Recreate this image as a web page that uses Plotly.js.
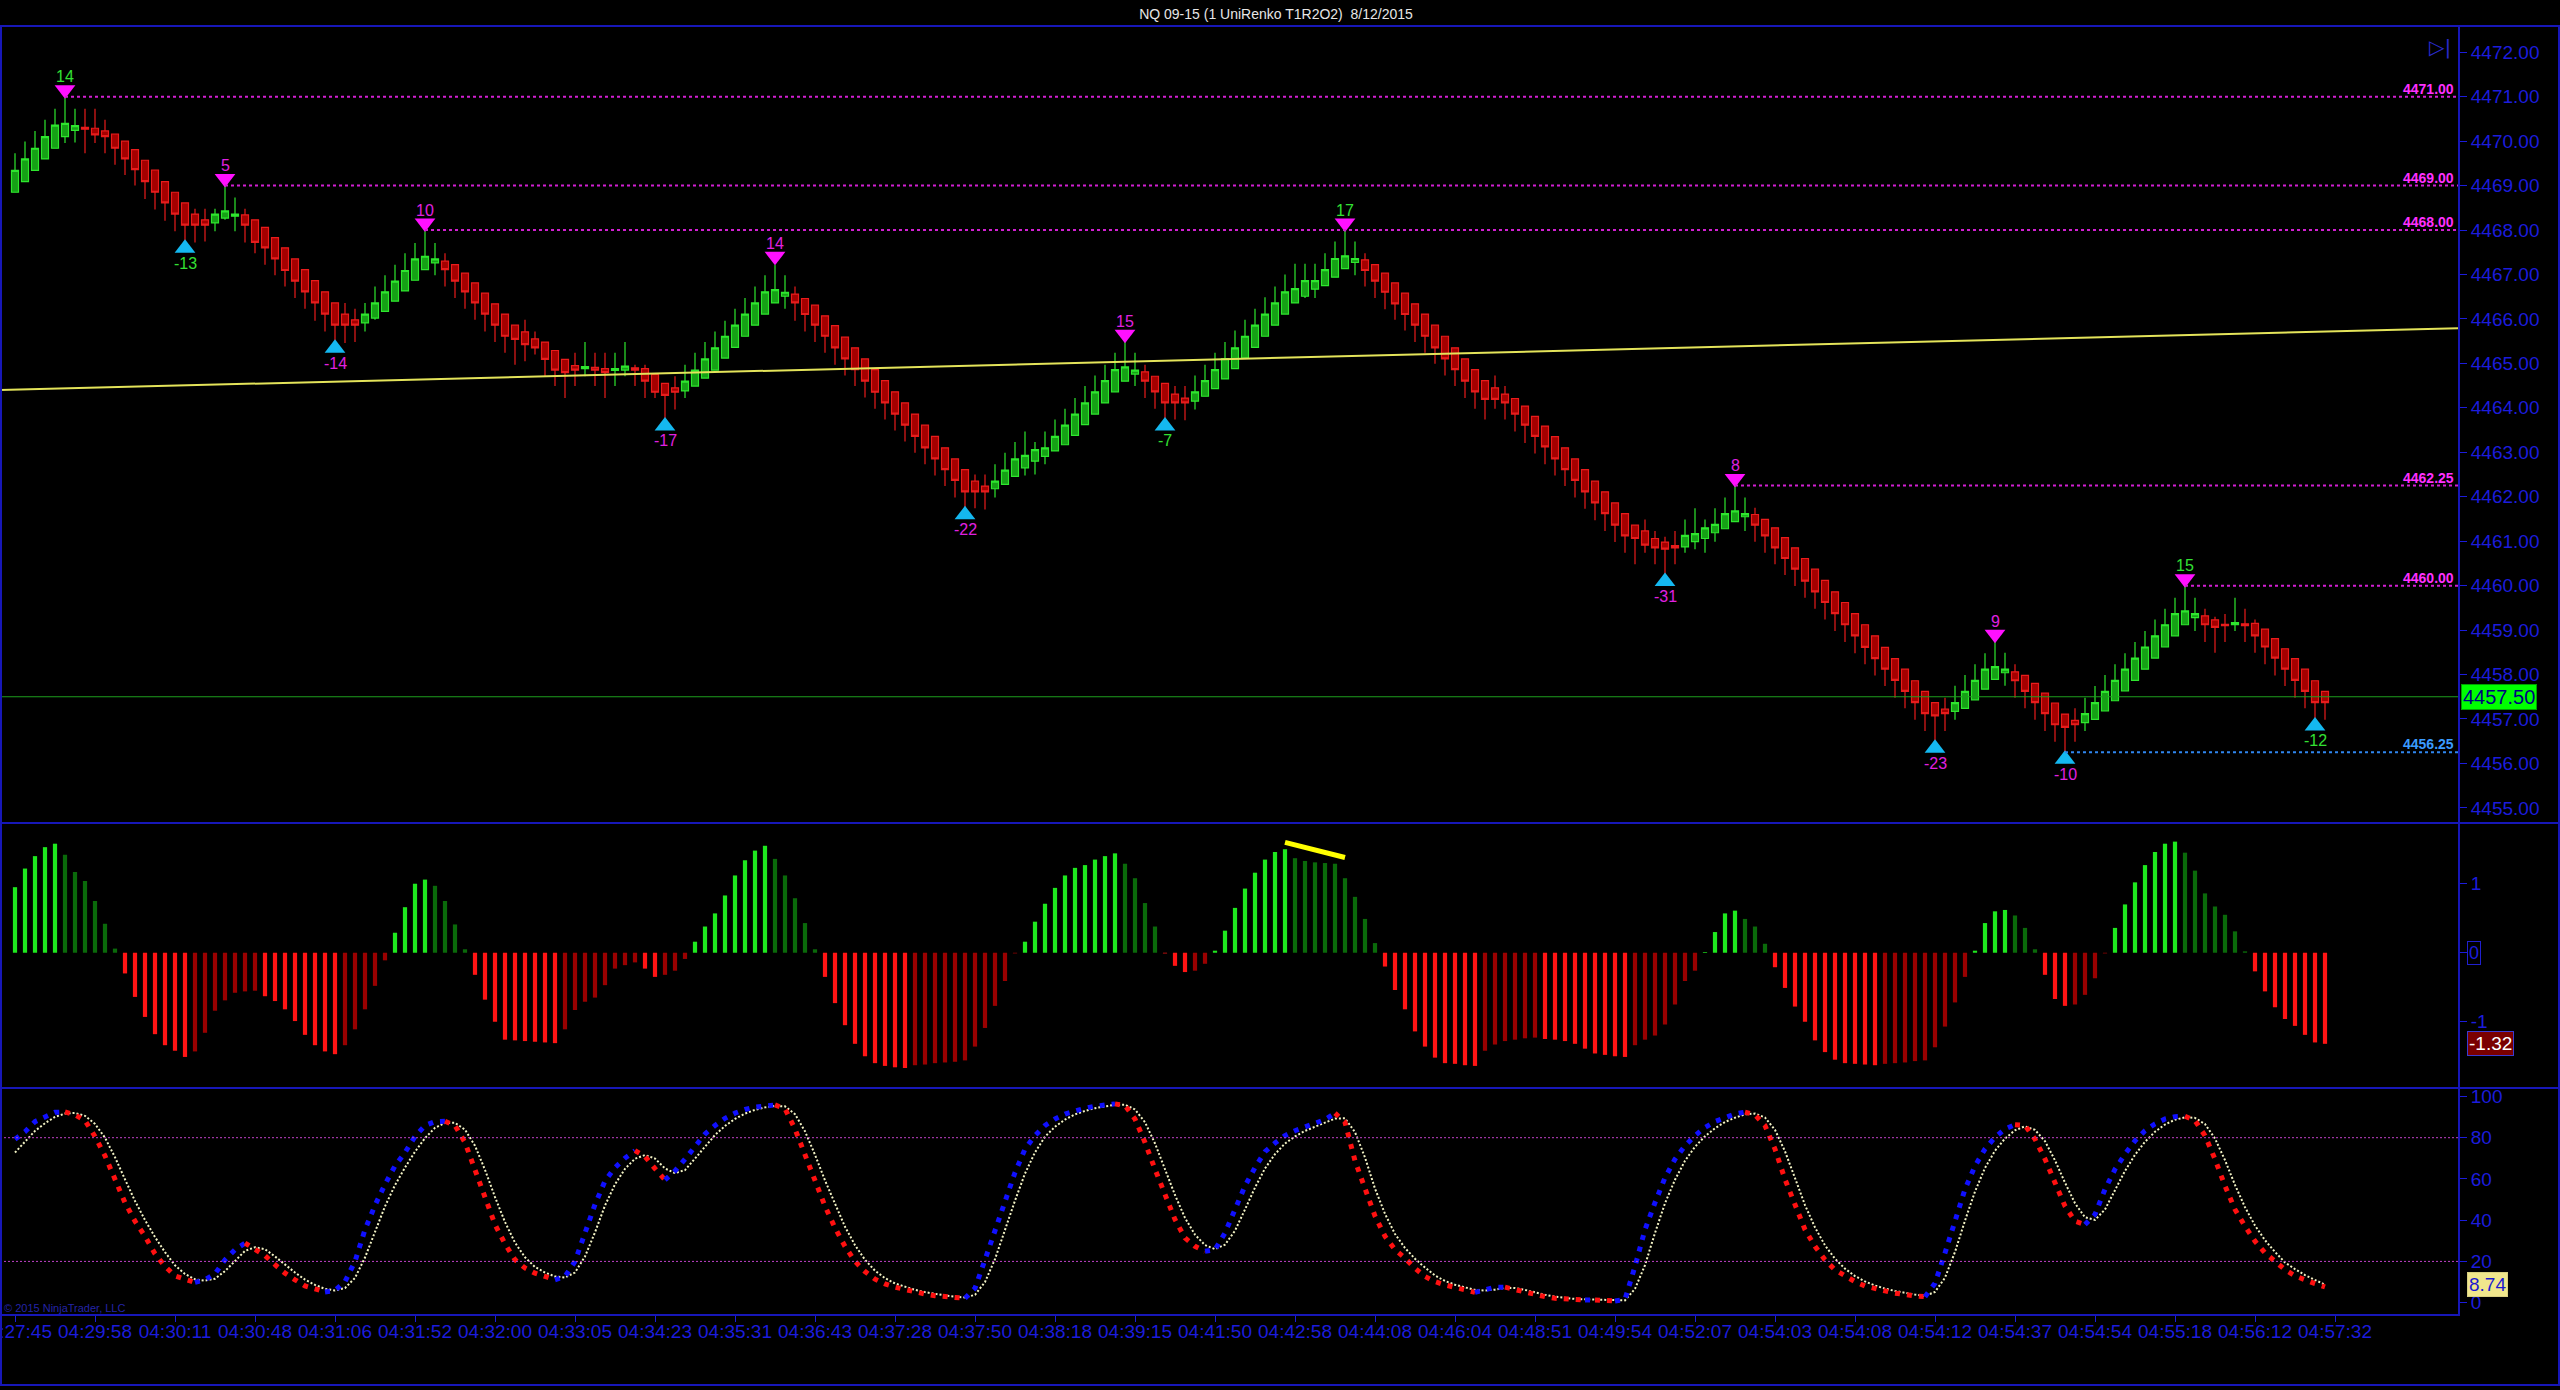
<!DOCTYPE html>
<html><head><meta charset="utf-8">
<script src="https://cdn.plot.ly/plotly-3.0.1.min.js"></script>
<style>html,body{margin:0;padding:0;background:#000;overflow:hidden}#chart{width:2560px;height:1390px}</style>
</head><body><div id="chart"></div>
<script>
// ---------------- DATA ----------------
const open = [
4468.85,4469.09,4469.34,4469.60,4469.84,4470.10,4470.24,4470.31,4470.29,4470.23,
4470.16,4470.00,4469.81,4469.57,4469.35,4469.09,4468.85,4468.61,4468.36,4468.23,
4468.16,4468.27,4468.31,4468.34,4468.23,4468.06,4467.83,4467.60,4467.35,4467.11,
4466.86,4466.61,4466.36,4466.11,4465.98,4465.91,4466.02,4466.17,4466.40,4466.63,
4466.87,4467.11,4467.26,4467.30,4467.22,4467.03,4466.81,4466.58,4466.34,4466.11,
4465.86,4465.71,4465.55,4465.48,4465.29,4465.09,4464.95,4464.88,4464.91,4464.88,
4464.84,4464.85,4464.90,4464.88,4464.75,4464.55,4464.45,4464.38,4464.49,4464.67,
4464.85,4465.12,4465.36,4465.61,4465.86,4466.11,4466.36,4466.51,4466.56,4466.46,
4466.31,4466.07,4465.85,4465.59,4465.35,4465.10,4464.86,4464.61,4464.36,4464.11,
4463.86,4463.61,4463.36,4463.10,4462.85,4462.61,4462.35,4462.24,4462.18,4462.28,
4462.46,4462.65,4462.80,4462.91,4463.03,4463.17,4463.38,4463.62,4463.86,4464.11,
4464.36,4464.60,4464.76,4464.81,4464.71,4464.55,4464.31,4464.22,4464.15,4464.26,
4464.43,4464.65,4464.88,4465.12,4465.36,4465.61,4465.86,4466.11,4466.36,4466.51,
4466.67,4466.75,4466.94,4467.13,4467.27,4467.33,4467.22,4467.03,4466.81,4466.58,
4466.34,4466.11,4465.86,4465.61,4465.35,4465.10,4464.86,4464.61,4464.45,4464.31,
4464.21,4464.04,4463.81,4463.59,4463.35,4463.10,4462.85,4462.61,4462.35,4462.11,
4461.86,4461.62,4461.36,4461.23,4461.06,4460.98,4460.90,4460.87,4460.99,4461.06,
4461.19,4461.28,4461.44,4461.55,4461.60,4461.49,4461.30,4461.08,4460.85,4460.61,
4460.37,4460.12,4459.86,4459.62,4459.37,4459.12,4458.87,4458.61,4458.36,4458.12,
4457.86,4457.62,4457.37,4457.22,4457.17,4457.24,4457.43,4457.67,4457.89,4458.04,
4458.06,4457.98,4457.80,4457.58,4457.36,4457.11,4456.97,4456.92,4456.99,4457.18,
4457.41,4457.63,4457.87,4458.12,4458.37,4458.62,4458.87,4459.12,4459.28,4459.32,
4459.23,4459.13,4459.12,4459.14,4459.15,4459.02,4458.81,4458.58,4458.36,4458.12,
4457.86,4457.62];
const high = [
4469.73,4469.99,4470.23,4470.48,4470.73,4470.97,4470.73,4470.73,4470.73,4470.48,
4470.16,4470.00,4469.81,4469.57,4469.35,4469.09,4468.85,4468.61,4468.48,4468.48,
4468.48,4469.00,4468.73,4468.48,4468.23,4468.06,4467.83,4467.60,4467.35,4467.11,
4466.86,4466.61,4466.36,4466.36,4466.23,4466.36,4466.73,4466.98,4467.22,4467.48,
4467.71,4467.97,4467.71,4467.48,4467.22,4467.03,4466.81,4466.58,4466.34,4466.11,
4465.86,4465.98,4465.72,4465.48,4465.29,4465.09,4465.24,4465.48,4465.24,4465.24,
4465.24,4465.48,4464.97,4464.97,4464.75,4464.55,4464.71,4464.97,4465.24,4465.48,
4465.72,4465.96,4466.23,4466.47,4466.73,4466.98,4467.22,4466.98,4466.73,4466.46,
4466.31,4466.07,4465.85,4465.59,4465.35,4465.10,4464.86,4464.61,4464.36,4464.11,
4463.86,4463.61,4463.36,4463.10,4462.85,4462.61,4462.50,4462.50,4462.73,4462.99,
4463.23,4463.47,4463.23,4463.47,4463.74,4463.98,4464.22,4464.49,4464.73,4464.97,
4465.24,4465.50,4465.24,4464.97,4464.71,4464.55,4464.49,4464.49,4464.73,4464.97,
4465.24,4465.48,4465.74,4465.98,4466.23,4466.49,4466.73,4467.00,4467.24,4467.24,
4467.24,4467.48,4467.74,4468.01,4467.74,4467.48,4467.22,4467.03,4466.81,4466.58,
4466.34,4466.11,4465.86,4465.61,4465.35,4465.10,4464.86,4464.61,4464.73,4464.49,
4464.21,4464.04,4463.81,4463.59,4463.35,4463.10,4462.85,4462.61,4462.35,4462.11,
4461.86,4461.62,4461.36,4461.49,4461.23,4461.10,4461.23,4461.49,4461.74,4461.49,
4461.74,4461.98,4462.25,4461.98,4461.75,4461.49,4461.30,4461.08,4460.85,4460.61,
4460.37,4460.12,4459.86,4459.62,4459.37,4459.12,4458.87,4458.61,4458.36,4458.12,
4457.86,4457.62,4457.37,4457.48,4457.75,4457.99,4458.23,4458.48,4458.73,4458.49,
4458.23,4457.98,4457.80,4457.58,4457.36,4457.11,4457.24,4457.48,4457.74,4457.99,
4458.23,4458.48,4458.73,4458.98,4459.24,4459.48,4459.73,4459.99,4459.73,4459.48,
4459.30,4459.36,4459.73,4459.48,4459.24,4459.02,4458.81,4458.58,4458.36,4458.12,
4457.86,4457.62];
const low = [
4468.85,4469.09,4469.34,4469.60,4469.84,4469.96,4469.97,4469.73,4469.96,4469.73,
4469.47,4469.24,4469.00,4468.70,4468.46,4468.21,4467.97,4467.72,4467.72,4467.74,
4467.97,4468.23,4467.97,4467.72,4467.48,4467.22,4466.98,4466.73,4466.47,4466.23,
4465.96,4465.72,4465.48,4465.46,4465.48,4465.72,4465.98,4466.17,4466.40,4466.63,
4466.87,4467.11,4466.98,4466.73,4466.47,4466.23,4465.98,4465.72,4465.48,4465.24,
4464.97,4465.05,4465.20,4464.71,4464.49,4464.22,4464.49,4464.71,4464.49,4464.22,
4464.49,4464.71,4464.49,4464.22,4464.22,4463.72,4463.96,4464.22,4464.49,4464.67,
4464.85,4465.12,4465.36,4465.61,4465.86,4466.11,4466.36,4466.23,4465.96,4465.72,
4465.48,4465.24,4464.97,4464.73,4464.49,4464.23,4463.98,4463.74,4463.49,4463.24,
4462.99,4462.73,4462.48,4462.24,4461.98,4461.74,4461.74,4461.71,4461.98,4462.28,
4462.46,4462.48,4462.50,4462.73,4463.03,4463.17,4463.38,4463.62,4463.86,4464.11,
4464.36,4464.60,4464.49,4464.22,4463.98,4463.72,4463.74,4463.72,4463.96,4464.26,
4464.43,4464.65,4464.88,4465.12,4465.36,4465.61,4465.86,4466.11,4466.36,4466.47,
4466.47,4466.75,4466.94,4467.13,4466.98,4466.73,4466.47,4466.22,4465.98,4465.74,
4465.48,4465.24,4464.99,4464.73,4464.49,4464.22,4463.98,4463.74,4463.98,4463.74,
4463.47,4463.21,4462.97,4462.73,4462.48,4462.24,4461.98,4461.73,4461.47,4461.23,
4460.98,4460.74,4460.48,4460.74,4460.48,4460.24,4460.48,4460.74,4460.82,4460.74,
4460.99,4461.28,4461.44,4461.23,4460.99,4460.74,4460.48,4460.24,4459.99,4459.73,
4459.48,4459.24,4458.98,4458.73,4458.48,4458.23,4457.98,4457.74,4457.48,4457.24,
4456.98,4456.73,4456.49,4456.73,4456.98,4457.24,4457.43,4457.67,4457.89,4457.75,
4457.48,4457.24,4456.98,4456.73,4456.49,4456.25,4456.49,4456.73,4456.99,4457.18,
4457.41,4457.63,4457.87,4458.12,4458.37,4458.62,4458.87,4459.12,4458.98,4458.73,
4458.49,4458.73,4458.98,4458.73,4458.49,4458.23,4457.98,4457.74,4457.48,4457.24,
4456.98,4456.98];
const close = [
4469.34,4469.60,4469.84,4470.10,4470.36,4470.40,4470.35,4470.27,4470.14,4470.10,
4469.84,4469.60,4469.36,4469.09,4468.85,4468.61,4468.36,4468.11,4468.11,4468.11,
4468.36,4468.43,4468.36,4468.11,4467.72,4467.60,4467.35,4467.09,4466.85,4466.61,
4466.36,4466.11,4465.86,4465.86,4465.86,4466.11,4466.36,4466.61,4466.85,4467.09,
4467.35,4467.41,4467.35,4467.11,4466.85,4466.61,4466.36,4466.11,4465.86,4465.61,
4465.54,4465.42,4465.35,4465.09,4464.85,4464.79,4464.85,4464.93,4464.85,4464.79,
4464.88,4464.94,4464.85,4464.60,4464.35,4464.28,4464.35,4464.60,4464.85,4465.10,
4465.35,4465.61,4465.86,4466.11,4466.36,4466.61,4466.66,4466.60,4466.36,4466.10,
4465.86,4465.61,4465.35,4465.10,4464.86,4464.60,4464.35,4464.11,4463.86,4463.61,
4463.36,4463.10,4462.85,4462.61,4462.37,4462.11,4462.11,4462.11,4462.35,4462.60,
4462.85,4462.93,4463.06,4463.10,4463.36,4463.61,4463.86,4464.11,4464.36,4464.61,
4464.86,4464.92,4464.85,4464.60,4464.36,4464.11,4464.11,4464.11,4464.36,4464.61,
4464.86,4465.11,4465.35,4465.61,4465.86,4466.11,4466.36,4466.61,4466.68,4466.86,
4466.86,4467.11,4467.36,4467.42,4467.36,4467.09,4466.85,4466.60,4466.34,4466.10,
4465.86,4465.61,4465.35,4465.10,4464.86,4464.60,4464.36,4464.19,4464.19,4464.11,
4463.86,4463.61,4463.36,4463.12,4462.85,4462.61,4462.37,4462.11,4461.86,4461.62,
4461.36,4461.12,4461.06,4460.91,4460.85,4460.82,4460.85,4461.13,4461.17,4461.30,
4461.38,4461.62,4461.68,4461.62,4461.36,4461.12,4460.85,4460.61,4460.37,4460.10,
4459.86,4459.62,4459.37,4459.12,4458.87,4458.61,4458.36,4458.12,4457.87,4457.62,
4457.37,4457.12,4457.07,4457.12,4457.37,4457.62,4457.87,4458.12,4458.18,4458.12,
4457.86,4457.62,4457.37,4457.12,4456.87,4456.81,4456.87,4457.12,4457.37,4457.62,
4457.87,4458.12,4458.37,4458.62,4458.87,4459.12,4459.37,4459.43,4459.37,4459.12,
4459.06,4459.10,4459.17,4459.10,4458.87,4458.62,4458.37,4458.12,4457.87,4457.62,
4457.37,4457.37];
const lastPrice = 4457.50;

const hist = [
0.95,1.22,1.40,1.53,1.58,1.42,1.17,1.04,0.75,0.42,
0.06,-0.30,-0.64,-0.93,-1.18,-1.34,-1.42,-1.51,-1.43,-1.16,
-0.84,-0.69,-0.58,-0.56,-0.55,-0.63,-0.70,-0.82,-0.99,-1.19,
-1.34,-1.43,-1.47,-1.34,-1.11,-0.82,-0.48,-0.11,0.29,0.66,
1.00,1.06,0.97,0.75,0.41,0.05,-0.32,-0.68,-1.00,-1.26,
-1.27,-1.28,-1.29,-1.30,-1.31,-1.11,-0.83,-0.71,-0.65,-0.47,
-0.23,-0.18,-0.14,-0.23,-0.35,-0.32,-0.26,-0.09,0.16,0.38,
0.57,0.83,1.12,1.34,1.48,1.55,1.36,1.12,0.79,0.43,
0.05,-0.35,-0.73,-1.05,-1.32,-1.50,-1.60,-1.64,-1.66,-1.67,
-1.63,-1.62,-1.60,-1.59,-1.58,-1.56,-1.36,-1.09,-0.77,-0.41,
-0.01,0.16,0.45,0.71,0.94,1.12,1.23,1.27,1.35,1.40,
1.44,1.29,1.08,0.72,0.38,-0.01,-0.19,-0.28,-0.26,-0.16,
0.03,0.32,0.65,0.93,1.16,1.35,1.46,1.50,1.37,1.33,
1.31,1.30,1.29,1.08,0.81,0.49,0.14,-0.20,-0.54,-0.82,
-1.14,-1.36,-1.52,-1.60,-1.61,-1.63,-1.64,-1.42,-1.33,-1.28,
-1.26,-1.24,-1.23,-1.25,-1.26,-1.28,-1.32,-1.39,-1.46,-1.48,
-1.50,-1.51,-1.34,-1.26,-1.20,-1.04,-0.75,-0.41,-0.26,0.01,
0.30,0.57,0.61,0.49,0.38,0.13,-0.21,-0.51,-0.78,-1.00,
-1.27,-1.44,-1.55,-1.60,-1.61,-1.62,-1.63,-1.61,-1.60,-1.59,
-1.57,-1.56,-1.37,-1.07,-0.72,-0.35,0.03,0.43,0.60,0.62,
0.54,0.36,0.05,-0.32,-0.67,-0.77,-0.75,-0.61,-0.37,-0.01,
0.36,0.70,1.02,1.27,1.46,1.58,1.61,1.45,1.19,0.86,
0.67,0.55,0.31,0.02,-0.27,-0.56,-0.79,-0.96,-1.06,-1.19,
-1.30,-1.32];

const stochK = [
79.3,82.9,87.8,90.2,92.3,92.5,91.1,88.3,80.6,71.2,
59.8,48.5,39.5,32.2,23.7,17.6,13.0,11.1,9.8,11.1,
14.0,20.8,25.7,28.9,26.0,22.8,18.4,14.3,11.1,8.1,
6.7,5.2,5.9,10.2,20.0,35.4,47.2,57.4,66.3,72.8,
80.6,85.9,87.8,88.0,85.9,77.7,64.7,50.9,37.9,28.5,
20.8,16.8,14.3,12.7,11.1,12.7,20.0,34.6,47.6,59.0,
65.5,70.1,73.7,70.9,65.0,59.5,63.9,69.6,76.1,81.8,
85.9,89.4,91.9,93.7,94.8,95.6,95.9,94.0,84.2,71.2,
59.8,46.8,36.3,27.3,20.0,15.1,11.4,9.1,7.5,6.2,
5.0,4.2,3.4,2.9,2.4,2.1,7.0,20.8,35.4,50.1,
63.1,74.5,81.0,85.9,89.1,91.5,93.2,94.3,95.3,95.9,
96.4,95.6,89.1,77.7,64.7,51.7,40.3,31.4,27.3,24.9,
25.7,33.8,45.2,56.6,65.5,73.2,77.4,81.0,83.4,85.4,
87.2,88.8,91.9,87.5,68.8,55.0,42.0,32.2,25.7,21.6,
16.7,12.7,10.2,8.6,7.3,6.2,5.0,6.5,7.5,7.5,
6.2,4.9,3.7,2.9,2.1,1.8,1.6,1.3,1.3,1.0,
0.8,1.6,17.6,35.4,48.5,60.6,69.6,76.1,81.0,85.0,
87.8,89.9,91.5,92.4,91.1,85.9,74.5,59.8,46.8,35.4,
27.3,20.8,15.9,12.7,10.2,8.1,6.7,5.7,4.6,3.7,
3.3,2.9,9.4,24.1,40.3,55.0,66.3,74.5,80.2,84.2,
86.3,85.9,79.3,69.6,58.2,46.8,39.5,37.9,42.8,55.0,
64.7,72.0,78.5,83.4,86.7,89.1,90.2,90.4,88.3,81.0,
69.6,56.6,45.2,37.1,29.8,24.1,20.0,16.0,13.0,10.9,
9.2,7.6];

const stochD = [
72.8,78.0,83.3,87.0,90.1,91.7,92.0,90.6,86.7,80.0,
70.5,59.8,49.3,40.1,31.8,24.5,18.1,13.9,11.3,10.7,
11.6,15.3,20.2,25.1,26.9,25.9,22.4,18.5,14.6,11.2,
8.6,6.7,5.9,7.1,12.0,21.9,34.2,46.7,57.0,65.5,
73.2,79.8,84.8,87.2,87.2,83.9,76.1,64.4,51.2,39.1,
29.1,22.0,17.3,14.6,12.7,12.2,14.6,22.4,34.1,47.1,
57.4,64.9,69.8,71.6,69.9,65.1,62.8,64.3,69.9,75.8,
81.3,85.7,89.1,91.7,93.5,94.7,95.4,95.2,91.4,83.1,
71.7,59.3,47.6,36.8,27.9,20.8,15.5,11.9,9.3,7.6,
6.2,5.1,4.2,3.5,2.9,2.5,3.8,10.0,21.1,35.4,
49.5,62.6,72.9,80.5,85.3,88.8,91.3,93.0,94.3,95.2,
95.9,96.0,93.7,87.5,77.2,64.7,52.2,41.1,33.0,27.9,
26.0,28.1,34.9,45.2,55.8,65.1,72.0,77.2,80.6,83.3,
85.3,87.1,89.3,89.4,82.7,70.4,55.3,43.1,33.3,26.5,
21.3,17.0,13.2,10.5,8.7,7.4,6.2,5.9,6.3,7.2,
7.1,6.2,4.9,3.8,2.9,2.3,1.8,1.6,1.4,1.2,
1.0,1.1,6.7,18.2,33.8,48.2,59.6,68.8,75.6,80.7,
84.6,87.6,89.7,91.3,91.7,89.8,83.8,73.4,60.4,47.3,
36.5,27.8,21.3,16.5,12.9,10.3,8.3,6.8,5.7,4.7,
3.9,3.3,5.2,12.1,24.6,39.8,53.9,65.3,73.7,79.6,
83.6,85.5,83.8,78.3,69.0,58.2,48.2,41.4,40.1,45.2,
54.2,63.9,71.7,78.0,82.9,86.4,88.7,89.9,89.6,86.6,
79.6,69.1,57.1,46.3,37.4,30.3,24.6,19.5,16.3,13.4,
11.0,8.74];

// swing points
const highIdx   = [5,21,41,76,111,133,172,198,217];
const highVal   = [4471.00,4469.00,4468.00,4467.25,4465.50,4468.00,4462.25,4458.75,4460.00];
const highLabel = [14,5,10,14,15,17,8,9,15];
const highTone  = ['g','m','m','m','m','g','m','m','g'];
const lowIdx    = [17,32,65,95,115,165,192,205,230];
const lowVal    = [4467.75,4465.50,4463.75,4461.75,4463.75,4460.25,4456.50,4456.25,4457.00];
const lowLabel  = [-13,-14,-17,-22,-7,-31,-23,-10,-12];
const lowTone   = ['g','m','m','m','g','m','m','m','g'];

// unbroken resistance / support levels
const resIdx = [5,21,41,172,217];
const resVal = [4471.00,4469.00,4468.00,4462.25,4460.00];
const supIdx = [205];
const supVal = [4456.25];

// trend line
const trendX = [-1.5,244.3];
const trendY = [4464.40,4465.79];

// histogram divergence mark
const divX = [127,133];
const divY = [1.60,1.38];

const tickBars = [0,8,16,24,32,40,48,56,64,72,80,88,96,104,112,120,128,136,144,152,160,168,176,184,192,200,208,216,224,232];
const timeLabels = ['04:27:45','04:29:58','04:30:11','04:30:48','04:31:06','04:31:52','04:32:00','04:33:05','04:34:23','04:35:31',
'04:36:43','04:37:28','04:37:50','04:38:18','04:39:15','04:41:50','04:42:58','04:44:08','04:46:04','04:48:51',
'04:49:54','04:52:07','04:54:03','04:54:08','04:54:12','04:54:37','04:54:54','04:55:18','04:56:12','04:57:32'];

const priceTicks = [4455,4456,4457,4458,4459,4460,4461,4462,4463,4464,4465,4466,4467,4468,4469,4470,4471,4472];
const histTicks = [-1,0,1];
const stochTicks = [0,20,40,60,80,100];
const stochLevels = [20,80];

const chartTitle = 'NQ 09-15 (1 UniRenko T1R2O2)  8/12/2015';

// ---------------- LAYOUT CONSTANTS ----------------
const W = 2560, H = 1390;
const AXIS_PX = 2458;
const PRICE_TOP = 26, PRICE_BOT = 823, HIST_BOT = 1088, STOCH_BOT = 1314, FRAME_BOT = 1385;
const X_RANGE = [-1.5, 244.3];
const PRICE_RANGE = [4454.66, 4472.59];
const HIST_RANGE = [-1.96, 1.88];
const STOCH_RANGE = [-5.5, 104.1];
const py = p => (H - p) / H;
const px = p => p / W;

const BLUE = '#1c1cdc', FRAME = '#1717b8';
const FONT = 'Liberation Sans, Arial, sans-serif';
const NARROW = 'Liberation Sans Narrow, Liberation Sans, Arial, sans-serif';

const idx = close.map((_, i) => i);
const pricePxPerUnit = (PRICE_BOT - PRICE_TOP) / (PRICE_RANGE[1] - PRICE_RANGE[0]);
const TRI_OFF = 7 / pricePxPerUnit;

const histColors = hist.map((v, i) => {
  const p = i > 0 ? hist[i - 1] : v;
  if (v >= 0) return v >= p ? '#1ee81e' : '#0a6a0a';
  return v <= p ? '#ff1414' : '#9a0000';
});
const toneColor = t => t === 'g' ? '#33e033' : '#e020e0';

// %K drawn as a heavy dotted line, blue while rising and red while falling
const kUp = i => stochK[i + 1] >= stochK[i];
const kRuns = [];
{
  let s = 0;
  for (let i = 1; i < stochK.length - 1; i++) {
    if (kUp(i) !== kUp(s)) { kRuns.push([s, i]); s = i; }
  }
  kRuns.push([s, stochK.length - 1]);
}

// ---------------- TRACES ----------------
const traces = [
  {type:'scatter', mode:'lines', x:trendX, y:trendY, xaxis:'x', yaxis:'y',
   line:{color:'#e4e45a', width:2}, hoverinfo:'skip'},
  {type:'candlestick', x:idx, open:open, high:high, low:low, close:close, xaxis:'x', yaxis:'y',
   increasing:{line:{color:'#2ee62e', width:1.2}, fillcolor:'#16a016'},
   decreasing:{line:{color:'#e81c1c', width:1.2}, fillcolor:'#a40000'},
   whiskerwidth:0, hoverinfo:'skip'},
  {type:'scatter', mode:'markers', x:highIdx, y:highVal.map(v => v + TRI_OFF), xaxis:'x', yaxis:'y',
   marker:{symbol:'triangle-down', size:18, color:'#ff10ff'}, cliponaxis:false, hoverinfo:'skip'},
  {type:'scatter', mode:'markers', x:lowIdx, y:lowVal.map(v => v - TRI_OFF), xaxis:'x', yaxis:'y',
   marker:{symbol:'triangle-up', size:18, color:'#14b8f0'}, cliponaxis:false, hoverinfo:'skip'},
  {type:'bar', x:idx, y:hist, xaxis:'x', yaxis:'y2', width:0.42,
   marker:{color:histColors, line:{width:0}}, hoverinfo:'skip'},
  {type:'scatter', mode:'lines', x:divX, y:divY, xaxis:'x', yaxis:'y2',
   line:{color:'#ffff00', width:5}, hoverinfo:'skip'},
  {type:'scatter', mode:'lines', x:idx, y:stochD, xaxis:'x', yaxis:'y3',
   line:{color:'#f2f2c4', width:2, dash:'2px,2px'}, hoverinfo:'skip'}
];
kRuns.forEach(([s, e]) => traces.push({type:'scatter', mode:'lines',
  x:idx.slice(s, e + 1), y:stochK.slice(s, e + 1), xaxis:'x', yaxis:'y3',
  line:{color:kUp(s) ? '#1010ff' : '#ff1010', width:5, dash:'5px,7px'}, hoverinfo:'skip'}));

// ---------------- SHAPES ----------------
const shapes = [];
resIdx.forEach((ix, k) => shapes.push({type:'line', xref:'x', yref:'y', x0:ix, x1:X_RANGE[1], y0:resVal[k], y1:resVal[k],
  line:{color:'#d21fd2', width:2, dash:'dot'}}));
supIdx.forEach((ix, k) => shapes.push({type:'line', xref:'x', yref:'y', x0:ix, x1:X_RANGE[1], y0:supVal[k], y1:supVal[k],
  line:{color:'#2f86f0', width:2, dash:'dot'}}));
shapes.push({type:'line', xref:'x', yref:'y', x0:X_RANGE[0], x1:X_RANGE[1], y0:lastPrice, y1:lastPrice,
  line:{color:'#1e9e1e', width:1}});
stochLevels.forEach(l => shapes.push({type:'line', xref:'x', yref:'y3', x0:X_RANGE[0], x1:X_RANGE[1], y0:l, y1:l,
  line:{color:'#c040c8', width:1, dash:'2px,2px'}}));
// frame
[PRICE_TOP, PRICE_BOT, HIST_BOT, FRAME_BOT].forEach(yp => shapes.push({type:'line', xref:'paper', yref:'paper',
  x0:0, x1:1, y0:py(yp), y1:py(yp), line:{color:FRAME, width:2}}));
shapes.push({type:'line', xref:'paper', yref:'paper', x0:px(1), x1:px(1), y0:py(PRICE_TOP), y1:py(FRAME_BOT), line:{color:FRAME, width:2}});
shapes.push({type:'line', xref:'paper', yref:'paper', x0:px(2559), x1:px(2559), y0:py(PRICE_TOP), y1:py(FRAME_BOT), line:{color:FRAME, width:2}});

// ---------------- ANNOTATIONS ----------------
const ann = [];
highIdx.forEach((ix, k) => ann.push({xref:'x', yref:'y', x:ix, y:highVal[k], yshift:20, text:String(highLabel[k]),
  showarrow:false, font:{family:NARROW, size:16, color:toneColor(highTone[k])}}));
lowIdx.forEach((ix, k) => ann.push({xref:'x', yref:'y', x:ix, y:lowVal[k], yshift:-22, text:String(lowLabel[k]),
  showarrow:false, font:{family:NARROW, size:16, color:toneColor(lowTone[k])}}));
resVal.forEach(v => ann.push({xref:'paper', yref:'y', x:px(AXIS_PX - 2), y:v, xanchor:'right', yanchor:'bottom', yshift:-2,
  text:'<b>' + v.toFixed(2) + '</b>', showarrow:false, font:{family:FONT, size:14, color:'#ff30ff'}}));
supVal.forEach(v => ann.push({xref:'paper', yref:'y', x:px(AXIS_PX - 2), y:v, xanchor:'right', yanchor:'bottom', yshift:-2,
  text:'<b>' + v.toFixed(2) + '</b>', showarrow:false, font:{family:FONT, size:14, color:'#3a9cff'}}));
ann.push({xref:'paper', yref:'y', x:px(2461), y:lastPrice, xanchor:'left', yanchor:'middle', text:lastPrice.toFixed(2),
  showarrow:false, bgcolor:'#00ff00', bordercolor:'#00a000', borderwidth:1, borderpad:1,
  font:{family:FONT, size:20, color:'#000080'}});
ann.push({xref:'paper', yref:'y2', x:px(2467), y:0, xanchor:'left', yanchor:'middle', text:'0',
  showarrow:false, bordercolor:'#2020d0', borderwidth:1, borderpad:1, font:{family:FONT, size:18, color:BLUE}});
ann.push({xref:'paper', yref:'y2', x:px(2467), y:hist[hist.length - 1], xanchor:'left', yanchor:'middle',
  text:hist[hist.length - 1].toFixed(2), showarrow:false, bgcolor:'#7a0000', bordercolor:'#3a3ad0', borderwidth:1, borderpad:1,
  font:{family:FONT, size:19, color:'#ffffff'}});
ann.push({xref:'paper', yref:'y3', x:px(2467), y:stochD[stochD.length - 1], xanchor:'left', yanchor:'middle',
  text:stochD[stochD.length - 1].toFixed(2), showarrow:false, bgcolor:'#f0e68c', bordercolor:'#d8cf80', borderwidth:1, borderpad:1,
  font:{family:FONT, size:19, color:'#1a1ad0'}});
ann.push({xref:'paper', yref:'paper', x:px(2440), y:py(47), xanchor:'center', yanchor:'middle', text:'▷|',
  showarrow:false, font:{family:'DejaVu Sans, sans-serif', size:20, color:'#2a2acc'}});
ann.push({xref:'paper', yref:'paper', x:px(2), y:py(1308), xanchor:'left', yanchor:'middle', text:'© 2015 NinjaTrader, LLC',
  showarrow:false, font:{family:FONT, size:11, color:'#2424a8'}});

// ---------------- LAYOUT ----------------
const axisCommon = {showgrid:false, zeroline:false, showline:true, linecolor:FRAME, linewidth:2,
  ticks:'outside', ticklen:7, tickcolor:BLUE, tickfont:{family:FONT, size:19, color:BLUE}, fixedrange:true};

const layout = {
  width:W, height:H, paper_bgcolor:'#000', plot_bgcolor:'#000',
  margin:{l:0, r:0, t:0, b:0, pad:0}, showlegend:false,
  boxgap:0.3, boxgroupgap:0,
  title:{text:chartTitle, x:px(1276), y:py(14), xanchor:'center', yanchor:'middle', xref:'paper', yref:'paper',
    font:{family:FONT, size:14, color:'#e6e6e6'}},
  xaxis:Object.assign({}, axisCommon, {domain:[0, px(AXIS_PX)], range:X_RANGE, anchor:'y3',
    tickmode:'array', tickvals:tickBars, ticktext:timeLabels, tickangle:0, ticklen:6,
    ticklabeloverflow:'allow', ticklabelstandoff:-7,
    rangeslider:{visible:false}}),
  yaxis:Object.assign({}, axisCommon, {domain:[py(PRICE_BOT), py(PRICE_TOP)], range:PRICE_RANGE, side:'right', anchor:'x',
    tickmode:'array', tickvals:priceTicks, ticktext:priceTicks.map(v => v.toFixed(2))}),
  yaxis2:Object.assign({}, axisCommon, {domain:[py(HIST_BOT), py(PRICE_BOT)], range:HIST_RANGE, side:'right', anchor:'x',
    tickmode:'array', tickvals:histTicks, ticktext:histTicks.map(v => v === 0 ? '' : String(v))}),
  yaxis3:Object.assign({}, axisCommon, {domain:[py(STOCH_BOT), py(HIST_BOT)], range:STOCH_RANGE, side:'right', anchor:'x',
    tickmode:'array', tickvals:stochTicks, ticktext:stochTicks.map(String)}),
  shapes:shapes,
  annotations:ann
};

Plotly.newPlot('chart', traces, layout, {staticPlot:true, displayModeBar:false});
</script></body></html>
